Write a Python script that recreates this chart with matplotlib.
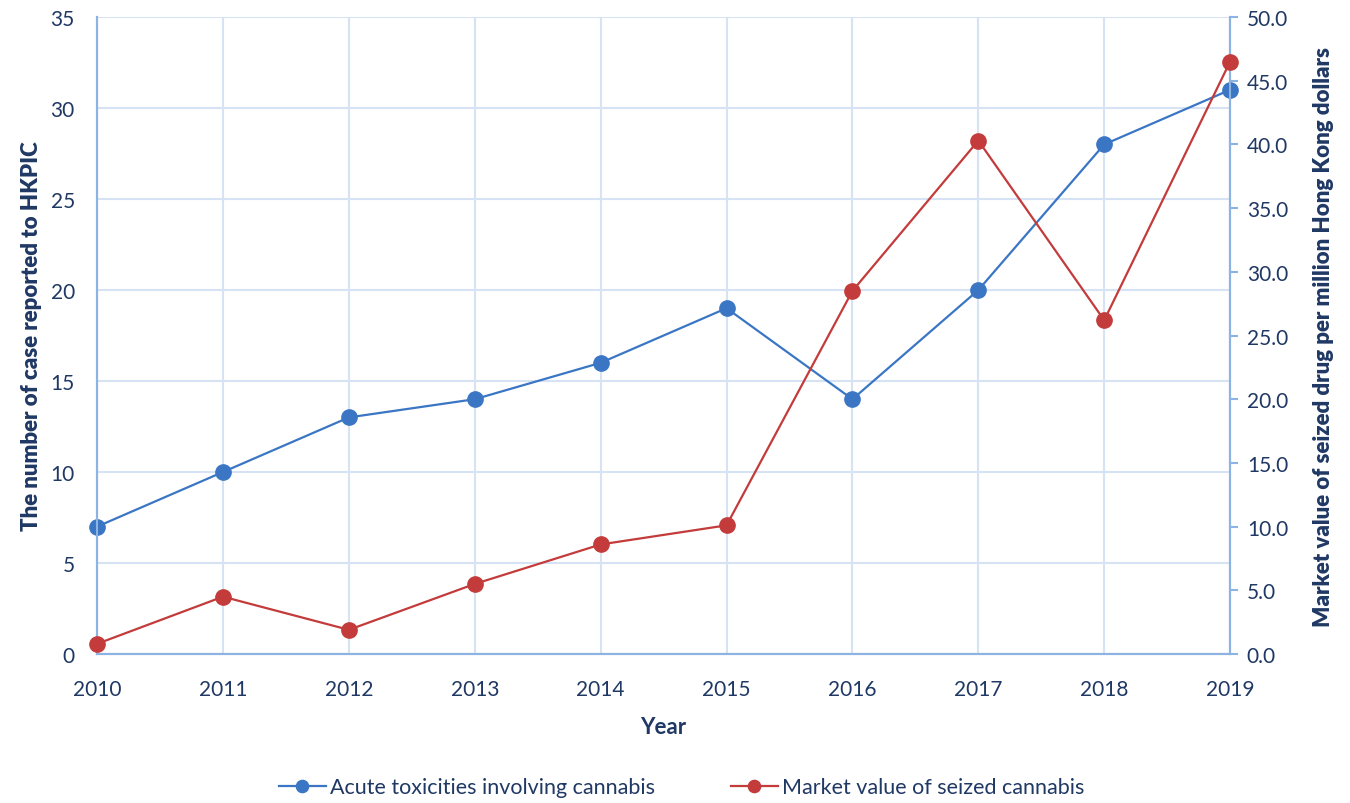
import matplotlib.pyplot as plt

plt.rcParams['font.family'] = ['Lato', 'DejaVu Sans']

years = [2010, 2011, 2012, 2013, 2014, 2015, 2016, 2017, 2018, 2019]
cases = [7, 10, 13, 14, 16, 19, 14, 20, 28, 31]
market_value = [0.8, 4.5, 1.9, 5.5, 8.6, 10.1, 28.5, 40.3, 26.2, 46.5]

txt = '#1f3864'
grid = '#d6e3f4'
axis_col = '#8db3e2'
blue = '#3a76c4'
red = '#c33b3b'

fig = plt.figure(figsize=(13.5, 8.04), dpi=100)
ax = fig.add_axes([0.0719, 0.1853, 0.8393, 0.7923])
ax2 = ax.twinx()

l1, = ax.plot(years, cases, color=blue, lw=1.6, marker='o', markersize=11,
              markeredgecolor=blue, label='Acute toxicities involving cannabis',
              zorder=3, clip_on=False)
l2, = ax2.plot(years, market_value, color=red, lw=1.6, marker='o', markersize=11,
               markeredgecolor=red, label='Market value of seized cannabis',
               zorder=3, clip_on=False)

ax.set_xlim(2010, 2019)
ax.set_ylim(0, 35)
ax2.set_ylim(0, 50)
ax.set_xticks(years)
ax.set_yticks(range(0, 36, 5))
ax2.set_yticks([i * 5 for i in range(11)])
ax2.set_yticklabels([f'{i * 5:.1f}' for i in range(11)])

ax.grid(True, color=grid, lw=1.5)
ax.set_axisbelow(True)

for a in (ax, ax2):
    a.spines['top'].set_visible(False)
    for s in ('left', 'right', 'bottom'):
        a.spines[s].set_color(axis_col)
        a.spines[s].set_linewidth(1.5)
    a.tick_params(colors=txt, labelsize=15)

ax.tick_params(axis='y', length=0, pad=16)
ax.tick_params(axis='x', length=0, pad=18)
ax2.tick_params(axis='y', length=6, color=axis_col, width=1.5, pad=6)

ax.set_xlabel('Year', color=txt, fontsize=16, fontweight='bold', labelpad=12)
ax.set_ylabel('The number of case reported to HKPIC', color=txt, fontsize=16,
              fontweight='heavy', labelpad=6)
ax2.set_ylabel('Market value of seized drug per million Hong Kong dollars', color=txt,
               fontsize=16, fontweight='heavy', labelpad=18)

fig.legend(handles=[l1, l2], loc='lower center', bbox_to_anchor=(0.505, -0.017), ncol=2,
           frameon=False, fontsize=15.5, labelcolor=txt, handlelength=2.2,
           handletextpad=0.2, columnspacing=3.5, markerscale=0.8)

fig.savefig('out.png', dpi=100)
